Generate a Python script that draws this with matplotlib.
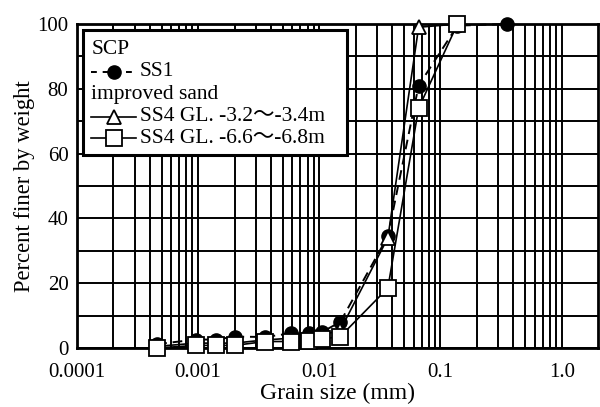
import matplotlib
matplotlib.use("Agg")
import matplotlib.pyplot as plt
from matplotlib.patches import Rectangle
from matplotlib.lines import Line2D
from matplotlib.ticker import FixedLocator, NullFormatter

plt.rcParams['font.family'] = ['Liberation Serif', 'Noto Sans CJK JP']

# Data
ss1_x = [0.00046, 0.00096, 0.00141, 0.0020, 0.0036, 0.0058, 0.0083, 0.0106, 0.0149, 0.0368, 0.066, 0.138, 0.354]
ss1_y = [1.2, 2.6, 2.6, 3.5, 3.4, 4.5, 4.5, 5.0, 8.0, 34.5, 81.0, 99.5, 100.0]

tri_x = [0.00046, 0.00096, 0.00141, 0.0020, 0.0036, 0.0058, 0.0083, 0.0106, 0.0149, 0.0368, 0.066, 0.138]
tri_y = [0.5, 1.5, 1.5, 1.5, 2.5, 3.0, 3.5, 4.0, 5.5, 34.0, 99.0, 100.0]

sq_x = [0.00046, 0.00096, 0.00141, 0.0020, 0.0036, 0.0058, 0.0083, 0.0106, 0.0149, 0.0368, 0.066, 0.138]
sq_y = [0.0, 0.8, 0.8, 0.8, 2.0, 2.0, 2.3, 2.8, 3.5, 18.5, 74.0, 100.0]

x_ticks = [0.0001, 0.001, 0.01, 0.1, 1.0]
x_tick_labels = ["0.0001", "0.001", "0.01", "0.1", "1.0"]
y_ticks = [0, 20, 40, 60, 80, 100]

legend_title1 = "SCP"
legend_ss1 = "SS1"
legend_title2 = "improved sand"
legend_tri = "SS4 GL. -3.2～-3.4m"
legend_sq = "SS4 GL. -6.6～-6.8m"

fig = plt.figure(figsize=(6.0, 4.07), dpi=100)
ax = fig.add_axes([0.128, 0.145, 0.869, 0.796])

ax.set_xscale('log')
ax.set_xlim(0.0001, 2.0)
ax.set_ylim(0, 100)

# grid
minor = []
for d in [0.0001, 0.001, 0.01, 0.1, 1.0]:
    for k in range(2, 10):
        v = d * k
        if v < 2.0:
            minor.append(v)
ax.xaxis.set_major_locator(FixedLocator(x_ticks))
ax.xaxis.set_minor_locator(FixedLocator(minor))
ax.xaxis.set_minor_formatter(NullFormatter())
ax.set_xticks(x_ticks)
ax.set_xticklabels(x_tick_labels)
ax.yaxis.set_major_locator(FixedLocator(y_ticks))
ax.yaxis.set_minor_locator(FixedLocator(list(range(10, 100, 20))))
ax.grid(True, which='both', color='black', linewidth=1.4)
ax.set_axisbelow(True)
ax.tick_params(which='both', length=0, labelsize=15)
ax.tick_params(axis='x', pad=11)
ax.tick_params(axis='y', pad=6)

for s in ax.spines.values():
    s.set_linewidth(2.0)

ax.plot(ss1_x, ss1_y, color='black', linestyle=(0, (5, 3)), linewidth=1.4,
        marker='o', markersize=9.5, markerfacecolor='black', markeredgecolor='black',
        zorder=3, clip_on=False)
ax.plot(tri_x, tri_y, color='black', linestyle='-', linewidth=1.2,
        marker='^', markersize=10, markerfacecolor='white', markeredgecolor='black',
        markeredgewidth=1.3, zorder=4, clip_on=False)
ax.plot(sq_x, sq_y, color='black', linestyle='-', linewidth=1.2,
        marker='s', markersize=11, markerfacecolor='white', markeredgecolor='black',
        markeredgewidth=1.3, zorder=5, clip_on=False)

ax.set_xlabel("Grain size (mm)", fontsize=17)
ax.xaxis.set_label_coords(0.5, -0.108)
ax.set_ylabel("Percent finer by weight", fontsize=16.3)
ax.yaxis.set_label_coords(-0.081, 0.5)

# legend box drawn manually
tr = ax.transAxes
box = Rectangle((0.0115, 0.596), 0.507, 0.385, transform=tr, facecolor='white',
                edgecolor='black', linewidth=2.2, zorder=10)
ax.add_patch(box)
fs = 15.5
tx0 = 0.028
hx0, hx1 = 0.028, 0.113
tx1 = 0.121
rows = [0.920, 0.852, 0.781, 0.713, 0.648]
ax.text(tx0, rows[0], legend_title1, transform=tr, fontsize=fs, va='center', ha='left', zorder=11)
ax.add_line(Line2D([hx0, hx1], [rows[1]] * 2, transform=tr, color='black', linestyle=(0, (3, 3)),
                   linewidth=1.4, zorder=11))
ax.add_line(Line2D([(hx0 + hx1) / 2], [rows[1]], transform=tr, marker='o', markersize=9.5,
                   color='black', zorder=12))
ax.text(tx1, rows[1], legend_ss1, transform=tr, fontsize=fs, va='center', ha='left', zorder=11)
ax.text(tx0, rows[2], legend_title2, transform=tr, fontsize=fs, va='center', ha='left', zorder=11)
ax.add_line(Line2D([hx0, hx1], [rows[3]] * 2, transform=tr, color='black', linewidth=1.2, zorder=11))
ax.add_line(Line2D([(hx0 + hx1) / 2], [rows[3]], transform=tr, marker='^', markersize=10,
                   markerfacecolor='white', markeredgecolor='black', markeredgewidth=1.3,
                   linestyle='none', zorder=12))
ax.text(tx1, rows[3], legend_tri, transform=tr, fontsize=fs, va='center', ha='left', zorder=11)
ax.add_line(Line2D([hx0, hx1], [rows[4]] * 2, transform=tr, color='black', linewidth=1.2, zorder=11))
ax.add_line(Line2D([(hx0 + hx1) / 2], [rows[4]], transform=tr, marker='s', markersize=11,
                   markerfacecolor='white', markeredgecolor='black', markeredgewidth=1.3,
                   linestyle='none', zorder=12))
ax.text(tx1, rows[4], legend_sq, transform=tr, fontsize=fs, va='center', ha='left', zorder=11)

fig.savefig("out.png", dpi=100)
